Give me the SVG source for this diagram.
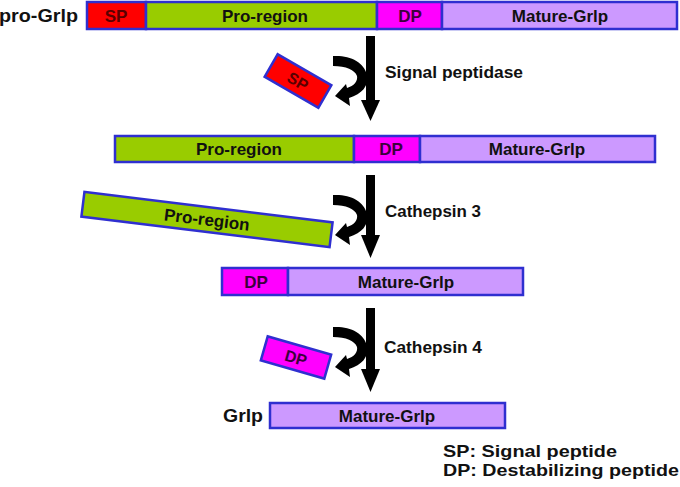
<svg xmlns="http://www.w3.org/2000/svg" xmlns:xlink="http://www.w3.org/1999/xlink" width="680" height="487" viewBox="0 0 680 487">
<style>
text{font-family:"Liberation Sans",Arial,sans-serif;font-weight:bold;fill:#111}
.seg{stroke:#2f2fd0;stroke-width:2.5}
.sp{fill:#ff0000}
.pro{fill:#99cc00}
.dp{fill:#ff00ff}
.mat{fill:#cc99ff}
.lbl{font-size:17px;text-anchor:middle}
.tsp{fill:#5a0000}
.tdp{fill:#3c003c}
.big{font-size:19px}
.enz{font-size:16.5px}
.leg{font-size:16.5px}
.blk{fill:#000}
</style>
<defs>
<path id="curl" d="M333,56 C350,55 364,62 367,75 C369,86 362,94 349,98 L350,106 L335,96 L346,84 L347,88 C354,86 358,81 357,76 C355,70 346,66 333,66 Z"/>
</defs>
<rect width="680" height="487" fill="#fff"/>

<g id="connectors" class="blk">
  <g id="arrow1">
    <use xlink:href="#curl"/>
    <rect x="366" y="36" width="9" height="65"/>
    <polygon points="361,100 380,100 370.5,121"/>
  </g>
  <g id="arrow2">
    <use xlink:href="#curl" transform="translate(0,139)"/>
    <rect x="366" y="175" width="9" height="61"/>
    <polygon points="361,235 380,235 370.5,258"/>
  </g>
  <g id="arrow3">
    <use xlink:href="#curl" transform="translate(0,271)"/>
    <rect x="366" y="308" width="9" height="62"/>
    <polygon points="361,369 380,369 370.5,392"/>
  </g>
</g>

<g id="pro-grlp">
  <text class="big" x="-1" y="22" textLength="79" lengthAdjust="spacingAndGlyphs">pro-Grlp</text>
  <rect class="seg sp" x="87" y="2" width="59" height="27"/>
  <rect class="seg pro" x="146" y="2" width="231" height="27"/>
  <rect class="seg dp" x="377" y="2" width="65" height="27"/>
  <rect class="seg mat" x="442" y="2" width="235" height="27"/>
  <text class="lbl tsp" x="116" y="21.5">SP</text>
  <text class="lbl" x="265" y="21.5">Pro-region</text>
  <text class="lbl tdp" x="410" y="21.5">DP</text>
  <text class="lbl" x="560" y="21.5">Mature-Grlp</text>
</g>

<g id="sp-fragment" transform="translate(298,81) rotate(30)">
  <rect class="seg sp" x="-31" y="-13" width="62" height="26"/>
  <text class="lbl tsp" x="0" y="6" style="font-size:16px">SP</text>
</g>

<g id="signal-peptidase">
  <text class="enz" x="385" y="77.5" textLength="138" lengthAdjust="spacingAndGlyphs">Signal peptidase</text>
</g>

<g id="intermediate1">
  <rect class="seg pro" x="115" y="136" width="239" height="26"/>
  <rect class="seg dp" x="354" y="136" width="66" height="26"/>
  <rect class="seg mat" x="420" y="136" width="235" height="26"/>
  <text class="lbl" x="239" y="155">Pro-region</text>
  <text class="lbl tdp" x="391" y="155">DP</text>
  <text class="lbl" x="537" y="155">Mature-Grlp</text>
</g>

<g id="pro-fragment" transform="translate(207,219.5) rotate(7)">
  <rect class="seg pro" x="-125" y="-12.5" width="250" height="25"/>
  <text class="lbl" x="0" y="6">Pro-region</text>
</g>

<g id="cathepsin3">
  <text class="enz" x="385" y="216.5" textLength="96" lengthAdjust="spacingAndGlyphs">Cathepsin 3</text>
</g>

<g id="intermediate2">
  <rect class="seg dp" x="222" y="268" width="66" height="27"/>
  <rect class="seg mat" x="288" y="268" width="235" height="27"/>
  <text class="lbl tdp" x="256" y="287.5">DP</text>
  <text class="lbl" x="406" y="287.5">Mature-Grlp</text>
</g>

<g id="dp-fragment" transform="translate(296,357.5) rotate(16)">
  <rect class="seg dp" x="-33" y="-12.5" width="66" height="25"/>
  <text class="lbl tdp" x="0" y="6" style="font-size:16px">DP</text>
</g>

<g id="cathepsin4">
  <text class="enz" x="384" y="353" textLength="98" lengthAdjust="spacingAndGlyphs">Cathepsin 4</text>
</g>

<g id="grlp">
  <text class="big" x="223" y="422" textLength="40" lengthAdjust="spacingAndGlyphs">Grlp</text>
  <rect class="seg mat" x="270" y="403" width="235" height="25"/>
  <text class="lbl" x="387" y="421.5">Mature-Grlp</text>
</g>

<g id="legend">
  <text class="leg" x="443" y="457" textLength="174" lengthAdjust="spacingAndGlyphs">SP: Signal peptide</text>
  <text class="leg" x="443" y="475.5" textLength="236" lengthAdjust="spacingAndGlyphs">DP: Destabilizing peptide</text>
</g>
</svg>
